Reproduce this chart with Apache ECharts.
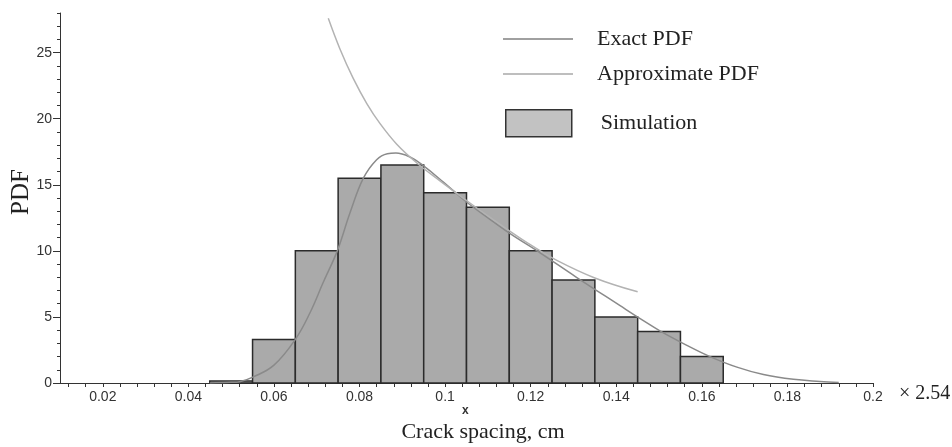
<!DOCTYPE html>
<html>
<head>
<meta charset="utf-8">
<script src="https://cdn.jsdelivr.net/npm/echarts@6/dist/echarts.min.js"></script>
<style>
  html, body { margin: 0; padding: 0; background: #fff; }
  #chart { width: 952px; height: 447px; }
</style>
</head>
<body>
<div id="chart"></div>
<script>
// histogram bins (edges) and simulated PDF heights
const binEdges = [0.045, 0.055, 0.065, 0.075, 0.085, 0.095, 0.105, 0.115, 0.125, 0.135, 0.145, 0.155, 0.165]
const simulation = [0.15, 3.3, 10.0, 15.5, 16.5, 14.4, 13.3, 10.0, 7.8, 5.0, 3.9, 2.0]

// exact PDF
const exactX = [0.045, 0.05, 0.052, 0.0552, 0.06, 0.065, 0.0684, 0.0715, 0.0748, 0.0778, 0.0809, 0.084, 0.0865, 0.0885, 0.0918, 0.0949, 0.0996, 0.105, 0.11, 0.1152, 0.1222, 0.1307, 0.1409, 0.1452, 0.1502, 0.1565, 0.1619, 0.1682, 0.1744, 0.1814, 0.1876, 0.192]
const exactY = [0, 0.05, 0.1, 0.46, 1.35, 3.3, 5.3, 7.6, 10.0, 12.9, 15.5, 16.9, 17.35, 17.4, 17.1, 16.45, 15.2, 13.7, 12.5, 11.3, 9.85, 8.0, 5.85, 4.95, 3.95, 2.85, 2.0, 1.2, 0.64, 0.28, 0.12, 0.04]

// approximate PDF
const approxX = [0.0727, 0.0754, 0.0785, 0.0817, 0.0848, 0.0887, 0.0934, 0.0988, 0.105, 0.11, 0.115, 0.12, 0.126, 0.135, 0.145]
const approxY = [27.6, 25.3, 23.07, 21.15, 19.63, 18.07, 16.65, 15.3, 13.81, 12.64, 11.52, 10.45, 9.3, 7.95, 6.9]

// axis ticks / labels
const xLabels = [0.02, 0.04, 0.06, 0.08, 0.1, 0.12, 0.14, 0.16, 0.18, 0.2]
const xTicks = [0.012, 0.016, 0.02, 0.024, 0.028, 0.032, 0.036, 0.04, 0.044, 0.048, 0.052, 0.056, 0.06, 0.064, 0.068, 0.072, 0.076, 0.08, 0.084, 0.088, 0.092, 0.096, 0.1, 0.104, 0.108, 0.112, 0.116, 0.12, 0.124, 0.128, 0.132, 0.136, 0.14, 0.144, 0.148, 0.152, 0.156, 0.16, 0.164, 0.168, 0.172, 0.176, 0.18, 0.184, 0.188, 0.192, 0.196, 0.2]
const yLabels = [0, 5, 10, 15, 20, 25]
const yMinorTicks = [0, 1, 2, 3, 4, 5, 6, 7, 8, 9, 10, 11, 12, 13, 14, 15, 16, 17, 18, 19, 20, 21, 22, 23, 24, 25, 26, 27, 28]

const serif = '"Liberation Serif", "Times New Roman", serif'
const sans = '"Liberation Sans", Arial, sans-serif'
const axisColor = '#333'
const exactColor = '#8a8a8a'
const approxColor = '#b3b3b3'

const bars = simulation.map((h, i) => [binEdges[i], binEdges[i + 1], h])

const chart = echarts.init(document.getElementById('chart'))

const legendText = (pad) => ({
  fontFamily: serif, fontSize: 22, color: '#222', padding: [0, 0, 0, pad]
})

chart.setOption({
  animation: false,
  backgroundColor: '#fff',
  grid: { left: 60, right: 79, top: 13, bottom: 64, outerBoundsMode: 'none' },
  legend: [
    {
      data: [{ name: 'Exact PDF', icon: 'rect', itemStyle: { color: '#808080', borderWidth: 0 } }],
      left: 503, top: 28, padding: 0,
      itemWidth: 70, itemHeight: 1.5, textStyle: legendText(19)
    },
    {
      data: [{ name: 'Approximate PDF', icon: 'rect', itemStyle: { color: '#a8a8a8', borderWidth: 0 } }],
      left: 503, top: 63, padding: 0,
      itemWidth: 70, itemHeight: 1.5, textStyle: legendText(19)
    },
    {
      data: [{
        name: 'Simulation', icon: 'rect',
        itemStyle: { color: '#c2c2c2', borderColor: '#333', borderWidth: 1.5 }
      }],
      left: 505, top: 109, padding: 0,
      itemWidth: 66, itemHeight: 27, textStyle: legendText(24)
    }
  ],
  xAxis: {
    type: 'value',
    min: 0.01,
    max: 0.2,
    name: 'Crack spacing, cm',
    nameLocation: 'middle',
    nameGap: 38,
    nameMoveOverlap: false,
    nameTextStyle: { fontFamily: serif, fontSize: 22, color: '#222', padding: [0, 0, 0, 33] },
    axisLine: { lineStyle: { color: axisColor, width: 1 } },
    axisTick: { customValues: xTicks, length: 4, lineStyle: { color: axisColor } },
    axisLabel: {
      customValues: xLabels,
      margin: 7,
      fontFamily: sans, fontSize: 14, color: axisColor,
      formatter: (v) => String(+v.toFixed(3))
    },
    splitLine: { show: false }
  },
  yAxis: [
    {
      type: 'value',
      min: 0,
      max: 28,
      name: 'PDF',
      nameLocation: 'middle',
      nameGap: 26,
      nameMoveOverlap: false,
      nameTextStyle: { fontFamily: serif, fontSize: 25, color: '#222', padding: [0, 0, 0, 12] },
      axisLine: { show: true, lineStyle: { color: axisColor, width: 1 } },
      axisTick: { show: true, customValues: yMinorTicks, length: 3, lineStyle: { color: axisColor } },
      axisLabel: { customValues: yLabels, margin: 8, fontFamily: sans, fontSize: 14, color: axisColor },
      splitLine: { show: false }
    },
    {
      type: 'value',
      min: 0,
      max: 28,
      position: 'left',
      axisLine: { show: false },
      axisTick: { show: true, customValues: yLabels, length: 7, lineStyle: { color: axisColor } },
      axisLabel: { show: false },
      splitLine: { show: false }
    }
  ],
  graphic: [
    {
      type: 'text', left: 462, top: 405,
      style: { text: 'x', fontFamily: sans, fontSize: 12, fontWeight: 'bold', fill: '#333' }
    },
    {
      type: 'text', left: 899, top: 384,
      style: { text: '\u00d7 2.54', fontFamily: serif, fontSize: 20, fill: '#222' }
    }
  ],
  series: [
    {
      name: 'Simulation',
      type: 'custom',
      itemStyle: { color: '#aaaaaa' },
      encode: { x: [0, 1], y: 2 },
      data: bars,
      renderItem: (params, api) => {
        const p0 = api.coord([api.value(0), api.value(2)])
        const p1 = api.coord([api.value(1), 0])
        return {
          type: 'rect',
          shape: { x: p0[0], y: p0[1], width: p1[0] - p0[0], height: p1[1] - p0[1] },
          style: { fill: '#aaaaaa', stroke: '#2b2b2b', lineWidth: 1.5 }
        }
      }
    },
    {
      name: 'Exact PDF',
      type: 'line',
      smooth: 0.4,
      symbol: 'none',
      color: exactColor,
      lineStyle: { color: exactColor, width: 1.5 },
      data: exactX.map((x, i) => [x, exactY[i]])
    },
    {
      name: 'Approximate PDF',
      type: 'line',
      smooth: 0.4,
      symbol: 'none',
      color: approxColor,
      lineStyle: { color: approxColor, width: 1.5 },
      data: approxX.map((x, i) => [x, approxY[i]])
    }
  ]
})
</script>
</body>
</html>
